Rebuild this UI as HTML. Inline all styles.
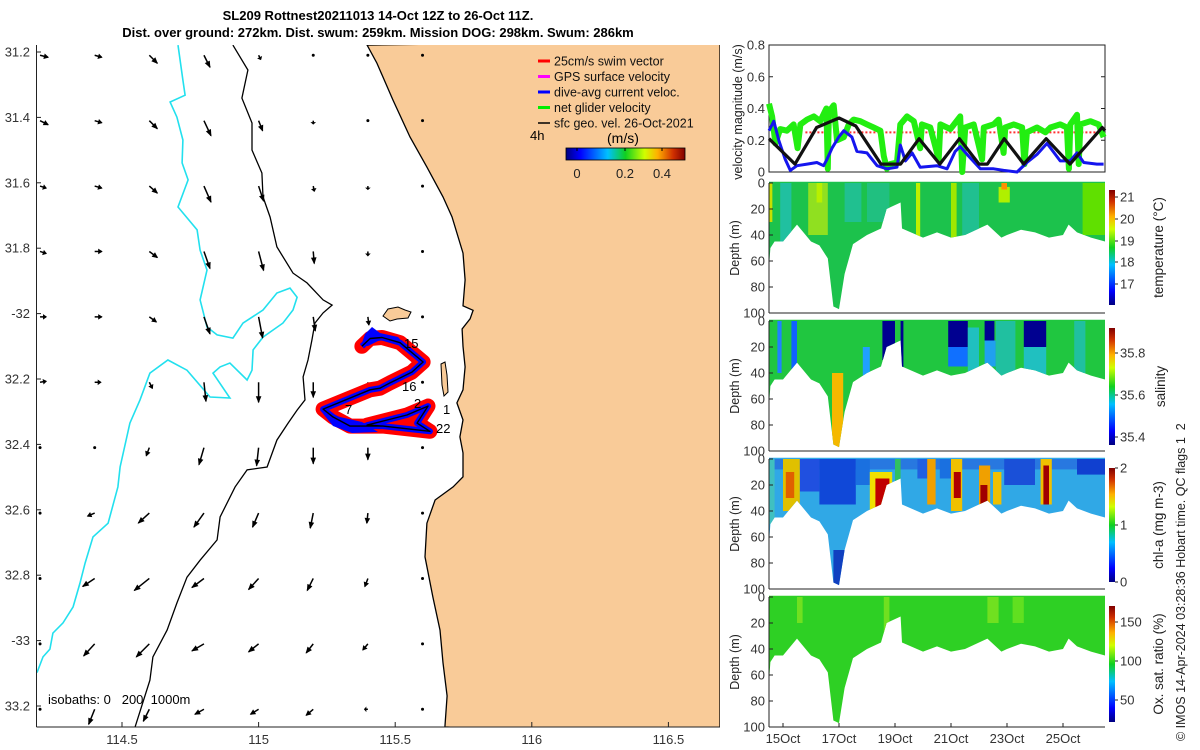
<!DOCTYPE html>
<html><head><meta charset="utf-8"><style>
body{margin:0;background:#fff;}
svg{display:block;font-family:"Liberation Sans",sans-serif;}
</style></head><body>
<svg id="s" width="1200" height="750" viewBox="0 0 1200 750">
<defs>
<linearGradient id="jetH" x1="0" x2="1" y1="0" y2="0">
<stop offset="0" stop-color="#000080"/><stop offset="0.12" stop-color="#0000ff"/><stop offset="0.35" stop-color="#00c0ff"/><stop offset="0.5" stop-color="#10d020"/><stop offset="0.66" stop-color="#d0ff00"/><stop offset="0.77" stop-color="#ffb000"/><stop offset="0.9" stop-color="#d03000"/><stop offset="1" stop-color="#800000"/></linearGradient>
<linearGradient id="jetV" x1="0" x2="0" y1="1" y2="0">
<stop offset="0" stop-color="#000080"/><stop offset="0.12" stop-color="#0000ff"/><stop offset="0.35" stop-color="#00c0ff"/><stop offset="0.5" stop-color="#10d020"/><stop offset="0.66" stop-color="#d0ff00"/><stop offset="0.77" stop-color="#ffb000"/><stop offset="0.9" stop-color="#d03000"/><stop offset="1" stop-color="#800000"/></linearGradient>
<clipPath id="mapClip"><rect x="36" y="45" width="684" height="682"/></clipPath>
</defs>
<g id="map" clip-path="url(#mapClip)"></g>
<g id="mapAxes"></g>
<g id="right"></g>
<text x="378" y="20" text-anchor="middle" font-size="13" font-weight="bold">SL209 Rottnest20211013 14-Oct 12Z to 26-Oct 11Z.</text>
<text x="378" y="37" text-anchor="middle" font-size="13" font-weight="bold">Dist. over ground: 272km. Dist. swum: 259km. Mission DOG: 298km. Swum: 286km</text>
</svg>
<script>
// ---------- data ----------
const coastLon = [115.397,115.433,115.492,115.554,115.616,115.675,115.708,115.748,115.756,115.748,115.785,115.774,115.745,115.748,115.756,115.748,115.726,115.748,115.737,115.748,115.748,115.712,115.646,115.616,115.609,115.638,115.664,115.675,115.690,115.682];
const coastLat = [31.179,31.234,31.347,31.460,31.552,31.643,31.704,31.815,31.897,31.976,31.990,32.016,32.047,32.100,32.163,32.233,32.273,32.325,32.377,32.426,32.499,32.530,32.570,32.641,32.744,32.867,32.968,33.068,33.169,33.264];
const iso200Lon = [114.906,114.961,114.939,114.976,114.976,115.012,115.016,115.042,115.067,115.126,115.177,115.236,115.269,115.236,115.206,115.195,115.181,115.163,115.170,115.141,115.108,115.067,115.031,114.958,114.914,114.859,114.848,114.786,114.738,114.701,114.665,114.613,114.602,114.548];
const iso200Lat = [31.179,31.255,31.341,31.417,31.500,31.570,31.643,31.705,31.796,31.876,31.906,31.958,31.974,31.998,32.029,32.081,32.142,32.194,32.264,32.295,32.335,32.387,32.469,32.478,32.530,32.622,32.692,32.754,32.806,32.885,32.968,33.050,33.121,33.264];
const iso1000Lon = [114.705,114.723,114.731,114.676,114.701,114.723,114.720,114.742,114.705,114.775,114.786,114.811,114.786,114.811,114.848,114.906,114.943,115.016,115.067,115.115,115.141,115.126,115.089,115.016,114.980,114.976,114.958,114.895,114.859,114.833,114.895,114.822,114.738,114.668,114.602,114.566,114.529,114.493,114.485,114.449,114.394,114.365,114.346,114.321,114.284,114.247,114.236,114.211,114.189];
const iso1000Lat = [31.179,31.286,31.332,31.353,31.399,31.469,31.539,31.591,31.674,31.744,31.806,31.867,31.958,32.041,32.065,32.075,32.029,31.989,31.937,31.922,31.950,31.989,32.029,32.072,32.111,32.173,32.203,32.151,32.163,32.182,32.258,32.255,32.173,32.142,32.182,32.264,32.335,32.469,32.530,32.641,32.683,32.763,32.825,32.897,32.946,32.977,33.026,33.050,33.098];
const arrowLon = [114.2,114.4,114.6,114.8,115.0,115.2,115.4,115.6];
const arrowLat = [31.21,31.41,31.61,31.81,32.01,32.21,32.41,32.61,32.81,33.01,33.21];
const arrowU = [[8,7,8,6,2,0,0,0],[8,7,8,7,4,0,0,0],[6,7,8,7,5,1,0,0],[6,7,8,6,5,1,0,0],[6,7,7,6,4,2,1,0],[6,6,3,2,0,0,0,0],[0,0,-3,-5,-2,0,0,0],[0,-7,-11,-10,-6,-3,-1,0],[0,-12,-15,-12,-10,-6,-3,0],[0,-11,-13,-12,-10,-7,-5,0],[0,-6,-6,-9,-8,-7,-3,0]];
const arrowV = [[-2,-2,-8,-12,-4,-1,0,0],[-4,-2,-8,-15,-10,-3,-1,0],[-2,-2,-7,-16,-15,-5,-3,-1],[-2,0,-6,-17,-19,-12,-4,-1],[0,0,-5,-17,-21,-14,-8,-1],[1,0,-6,-19,-20,-15,-8,-1],[-1,-1,-8,-17,-18,-16,-12,-1],[0,-3,-10,-14,-14,-15,-10,-1],[0,-8,-12,-9,-11,-12,-8,-1],[0,-12,-13,-7,-8,-9,-6,-1],[0,-15,-12,-5,-5,-6,0,-1]];
const trackLon = [115.378,115.408,115.452,115.518,115.602,115.561,115.481,115.444,115.408,115.236,115.272,115.335,115.455,115.627,115.580,115.620,115.543,115.397,115.455,115.627];
const trackLat = [32.100,32.076,32.073,32.089,32.148,32.179,32.212,32.228,32.233,32.292,32.316,32.344,32.344,32.360,32.335,32.283,32.310,32.341,32.344,32.360];
// velocity panel
const blackDays = [14.5,15.43,16.2,17.0,17.6,18.5,19.2,19.86,20.6,21.3,22.0,22.3,22.9,23.6,24.4,25.25,26.4,26.5];
const blackVals = [0.21,0.05,0.28,0.34,0.29,0.05,0.05,0.21,0.05,0.21,0.05,0.05,0.21,0.05,0.21,0.05,0.28,0.26];
const blueDays = [14.5,14.67,14.85,15.08,15.26,15.5,15.86,16.21,16.45,16.57,16.75,16.99,17.17,17.46,17.64,18.0,18.36,18.71,19.07,19.19,19.37,19.61,19.9,20.5,20.86,21.15,21.33,21.63,22.05,22.52,22.88,23.36,23.71,24.07,24.43,24.9,25.26,25.5,25.74,26.21,26.45];
const blueVals = [0.26,0.32,0.2,0.08,0.01,0.04,0.05,0.06,0.04,0.08,0.15,0.22,0.26,0.22,0.13,0.12,0.04,0.02,0.03,0.17,0.07,0.12,0.03,0.04,0.02,0.13,0.16,0.1,0.02,0.02,0.01,0.0,0.06,0.11,0.18,0.07,0.07,0.12,0.06,0.05,0.05];
const greenDays = [14.5,14.61,14.73,14.9,15.14,15.38,15.52,15.62,15.86,16.1,16.33,16.55,16.6,16.64,16.81,16.93,17.17,17.35,17.52,17.76,18.0,18.24,18.48,18.6,18.71,18.83,19.07,19.19,19.43,19.67,19.9,19.96,20.26,20.56,20.62,20.98,21.33,21.4,21.51,21.81,22.11,22.17,22.52,22.7,22.88,22.94,23.24,23.54,23.62,23.71,24.07,24.37,24.55,24.9,25.14,25.21,25.26,25.5,25.56,25.62,25.98,26.27,26.45];
const greenVals = [0.43,0.35,0.18,0.27,0.26,0.3,0.15,0.3,0.33,0.35,0.32,0.4,0.02,0.38,0.42,0.2,0.22,0.3,0.33,0.32,0.3,0.28,0.26,0.1,0.02,0.05,0.06,0.3,0.35,0.32,0.15,0.3,0.28,0.08,0.3,0.27,0.35,0.0,0.28,0.3,0.08,0.28,0.3,0.33,0.12,0.28,0.3,0.28,0.05,0.25,0.28,0.25,0.28,0.3,0.28,0.02,0.3,0.36,0.05,0.3,0.32,0.3,0.22];
const velTicks = [0,0.2,0.4,0.6,0.8];
// sections
const secDays = [14.5,14.55,14.7,15.0,15.5,16.0,16.3,16.6,16.8,17.0,17.2,17.5,18.0,18.5,18.7,18.9,19.2,19.25,20.0,20.5,21.0,21.5,22.0,22.3,22.8,23.0,23.5,24.0,24.5,25.0,25.2,25.5,26.0,26.5];
const secDepth = [65,50,45,45,32,45,48,58,95,97,70,47,40,35,20,18,15,35,42,38,42,40,35,32,42,40,36,38,42,40,32,38,42,45];
const depthTicks = [0,20,40,60,80,100];
const dateTicks = [15,17,19,21,23,25];
const dateLabels = ["15Oct","17Oct","19Oct","21Oct","23Oct","25Oct"];
const tempBands = [[14.5,14.62,'#c8e000',0,30],[14.9,15.3,'#20c0a0',0,45],[15.9,16.6,'#90e020',0,40],[16.2,16.4,'#b8f000',0,15],[17.2,17.8,'#20c090',0,30],[18.0,18.8,'#20c080',0,30],[19.75,19.9,'#c0f000',0,50],[21.0,21.2,'#a0e800',0,50],[21.4,22.0,'#20c090',0,40],[22.7,23.1,'#b0f000',3,15],[22.8,23.0,'#ff9000',0,5],[25.7,26.5,'#60e000',0,40]];
const salBands = [[14.8,14.95,'#2080ff',0,40],[15.3,15.5,'#1060ff',0,45],[17.85,18.1,'#20a0ff',20,45],[18.55,19.0,'#000090',0,30],[19.2,19.3,'#000090',0,45],[20.9,21.6,'#000090',0,20],[20.9,21.6,'#1070ff',20,35],[21.6,22.0,'#20c0c0',5,45],[22.2,22.55,'#000090',0,15],[22.2,22.6,'#20a0f0',15,35],[22.6,23.3,'#20c0a0',0,45],[23.6,24.4,'#000090',0,20],[23.6,24.4,'#20c0c0',20,45],[25.4,25.8,'#20c0a0',0,40],[16.75,17.15,'#f5b800',40,100]];
const chlBands = [[14.5,26.5,'#2878e0',0,8],[14.5,14.7,'#40c0c0',0,50],[15.6,16.3,'#2050e0',0,25],[16.3,17.6,'#1048d8',0,35],[16.8,17.2,'#1040c0',70,100],[17.6,18.1,'#1a70e0',0,20],[15.0,15.6,'#e0c000',0,40],[15.1,15.4,'#e06000',10,30],[18.1,18.9,'#f0e000',10,45],[18.3,18.8,'#c00000',15,40],[19.0,19.2,'#30c060',0,20],[19.8,20.2,'#2060e0',0,15],[20.15,20.45,'#f0a000',0,35],[20.6,21.0,'#1a70e0',0,15],[21.0,21.4,'#f0c000',0,40],[21.1,21.35,'#b00000',10,30],[22.0,22.4,'#f0a000',5,40],[22.05,22.3,'#a00000',20,40],[22.5,22.8,'#f0c000',10,35],[22.9,24.0,'#1a50d8',0,20],[24.2,24.6,'#f0c000',0,35],[24.3,24.5,'#a00000',5,35],[25.5,26.5,'#1040d0',0,12]];
const oxBands = [[15.5,15.7,'#70e020',0,20],[18.6,18.8,'#70e020',0,30],[22.3,22.7,'#70e020',0,20],[23.2,23.6,'#60e020',0,20]];

// ---------- helpers ----------
const NS="http://www.w3.org/2000/svg";
function mk(parent,tag,attrs,text){const e=document.createElementNS(NS,tag);for(const k in attrs)e.setAttribute(k,attrs[k]);if(text!==undefined)e.textContent=text;parent.appendChild(e);return e;}
const lonX = lon => 122 + (lon-114.5)*273.2;
const latY = lat => 52 + (lat-31.2)*327;
function pts(lons,lats){return lons.map((l,i)=>lonX(l).toFixed(1)+','+latY(lats[i]).toFixed(1)).join(' ');}

// ---------- map ----------
const map=document.getElementById('map');
let e;
e=mk(map,'rect',{x:36,y:45,width:684,height:682,fill:'#fff'});


e=mk(map,'polygon',{points:pts(coastLon,coastLat)+' 720,740 720,40',fill:'#f9cb98',stroke:'#000','stroke-width':1.3});


e=mk(map,'path',{d:'M383,316 L388,309 L398,307 L405,310 L411,312 L408,318 L397,319 L390,321 Z',fill:'#f9cb98',stroke:'#000','stroke-width':1});


e=mk(map,'path',{d:'M441,364 L445,362 L447,375 L448,392 L444,396 L442,385 Z',fill:'#f9cb98',stroke:'#000','stroke-width':1});


e=mk(map,'polyline',{points:pts(iso1000Lon,iso1000Lat),fill:'none',stroke:'#22e0ee','stroke-width':1.6});


e=mk(map,'polyline',{points:pts(iso200Lon,iso200Lat),fill:'none',stroke:'#000','stroke-width':1.3});


for(let j=0;j<arrowLat.length;j++){for(let i=0;i<arrowLon.length;i++){
  const x0=lonX(arrowLon[i]), y0=latY(arrowLat[j]);
  const dx=arrowU[j][i], dy=-arrowV[j][i];
  const L=Math.hypot(dx,dy);
  const g=mk(map,'g',{});
  
  
  if(L<1.5){mk(g,'circle',{cx:x0,cy:y0,r:1.5,fill:'#000'});continue;}
  const x1=x0+dx,y1=y0+dy,ux=dx/L,uy=dy/L,h=Math.min(6,L*0.5);
  mk(g,'line',{x1:x0,y1:y0,x2:x1,y2:y1,stroke:'#000','stroke-width':1.5});
  mk(g,'polygon',{points:`${x1+ux},${y1+uy} ${x1-ux*h-uy*2.8},${y1-uy*h+ux*2.8} ${x1-ux*h+uy*2.8},${y1-uy*h-ux*2.8}`,fill:'#000'});
}}
const tp=pts(trackLon,trackLat);
e=mk(map,'polyline',{points:tp,fill:'none',stroke:'#ff0000','stroke-width':15,'stroke-linejoin':'round','stroke-linecap':'round'});


e=mk(map,'path',{d:'M361,346 L365,334 L372,327 L380,333 L398,337 L405,345 L380,340 L368,346 Z',fill:'#0000ff'});


e=mk(map,'polyline',{points:tp,fill:'none',stroke:'#0000ff','stroke-width':6,'stroke-linejoin':'round'});


e=mk(map,'path',{d:'M320,410 L333,426 L352,433 L378,432 L362,422 L340,417 Z',fill:'#0000ff'});


e=mk(map,'polyline',{points:tp,fill:'none',stroke:'#000','stroke-width':1.4,'stroke-linejoin':'round'});


[['15',404,348],['16',402,391],['2',414,408],['1',443,414],['22',436,433],['7',345,414]].forEach(d=>{
  e=mk(map,'text',{x:d[1],y:d[2],'font-size':13},d[0]);
  
  
});
e=mk(map,'text',{x:48,y:704,'font-size':13},'isobaths: 0\u00a0\u00a0\u00a0200\u00a0\u00a01000m');


const leg=mk(map,'g',{});


[['#ff0000','25cm/s swim vector'],['#ff00ff','GPS surface velocity'],['#0000ff','dive-avg current veloc.'],['#00ee00','net glider velocity'],['#000000','sfc geo. vel. 26-Oct-2021']].forEach((d,k)=>{
  const y=61+k*15.5;
  e=mk(leg,'line',{x1:538,y1:y,x2:550,y2:y,stroke:d[0],'stroke-width':k==4?1.5:3});
  
  
  e=mk(leg,'text',{x:554,y:y+4.5,'font-size':12.5,fill:'#111'},d[1]);
  
  
});
e=mk(leg,'text',{x:530,y:140,'font-size':13},'4h');


e=mk(leg,'text',{x:607,y:143,'font-size':14},'(m/s)');


e=mk(leg,'rect',{x:566,y:148,width:119,height:12,fill:'url(#jetH)',stroke:'#000','stroke-width':0.8});


[['0',577],['0.2',625],['0.4',662]].forEach(d=>{
  mk(leg,'line',{x1:d[1],y1:148,x2:d[1],y2:151,stroke:'#000'});
  e=mk(leg,'text',{x:d[1],y:178,'font-size':13,'text-anchor':'middle',fill:'#222'},d[0]);
  
  
});
const ax=document.getElementById('mapAxes');
mk(ax,'line',{x1:36.5,y1:45,x2:36.5,y2:727,stroke:'#222','stroke-width':1});
mk(ax,'line',{x1:36.5,y1:727,x2:720,y2:727,stroke:'#222','stroke-width':1});
const latTicks=[31.2,31.4,31.6,31.8,32,32.2,32.4,32.6,32.8,33,33.2];
const latLabels=['31.2','31.4','31.6','31.8','-32','32.2','32.4','32.6','32.8','-33','33.2'];
latTicks.forEach((t,k)=>{const y=latY(t);
  mk(ax,'line',{x1:36.5,y1:y,x2:41,y2:y,stroke:'#222'});
  e=mk(ax,'text',{x:30,y:y+4.5,'font-size':13,'text-anchor':'end',fill:'#333'},latLabels[k]);
  
  
});
[114.5,115,115.5,116,116.5].forEach(t=>{const x=lonX(t);
  mk(ax,'line',{x1:x,y1:727,x2:x,y2:722,stroke:'#222'});
  e=mk(ax,'text',{x:x,y:744,'font-size':13,'text-anchor':'middle',fill:'#333'},String(t));
  
  
});

// ---------- right panels ----------
const R=document.getElementById('right');
const X0=769,X1=1105;
const dX = d => X0 + (d-14.5)*28;
const vY = v => 172 - v*158.75;
e=mk(R,'rect',{x:X0,y:45,width:X1-X0,height:127,fill:'#fff',stroke:'#222','stroke-width':1});


velTicks.forEach(v=>{
  mk(R,'line',{x1:X0,y1:vY(v),x2:X0+4,y2:vY(v),stroke:'#222'});
  mk(R,'line',{x1:X1,y1:vY(v),x2:X1-4,y2:vY(v),stroke:'#222'});
  e=mk(R,'text',{x:765,y:vY(v)+4.5,'font-size':13,'text-anchor':'end',fill:'#333'},String(v));
  
  
});
e=mk(R,'line',{x1:dX(15.8),y1:vY(0.25),x2:dX(26.3),y2:vY(0.25),stroke:'#ff3030','stroke-width':2,'stroke-dasharray':'2 2'});


function series(days,vals,col,w,name){
  const p=days.map((d,i)=>dX(d).toFixed(1)+','+vY(vals[i]).toFixed(1)).join(' ');
  const el=mk(R,'polyline',{points:p,fill:'none',stroke:col,'stroke-width':w,'stroke-linejoin':'round'});
  
  
}
series(greenDays,greenVals,'#22ee11',6,'net-glider-velocity-line');
series(blueDays,blueVals,'#1515ee',3,'dive-avg-current-line');
series(blackDays,blackVals,'#111',3.2,'geostrophic-velocity-line');
e=mk(R,'text',{x:0,y:0,'font-size':12.5,'text-anchor':'middle',fill:'#222',transform:'translate(742,112) rotate(-90)'},'velocity magnitude (m/s)');



const panels=[
 {top:183,bands:tempBands,base:'#1cc24c',name:'temperature',cb:[190,305],ticks:[['21',197],['20',219],['19',241],['18',262],['17',284]],title:'temperature (°C)'},
 {top:321,bands:salBands,base:'#20c640',name:'salinity',cb:[328,445],ticks:[['35.8',353],['35.6',395],['35.4',437]],title:'salinity'},
 {top:459,bands:chlBands,base:'#30a8e6',name:'chl-a',cb:[468,582],ticks:[['2',468],['1',525],['0',582]],title:'chl-a (mg m-3)'},
 {top:597,bands:oxBands,base:'#2ed024',name:'oxygen',cb:[606,722],ticks:[['150',622],['100',661],['50',700]],title:'Ox. sat. ratio (%)'}];
panels.forEach((P,pi)=>{
  const g=mk(R,'g',{});
  
  
  const dY = z => P.top + z*1.3;
  const cid='sec'+pi;
  const cp=mk(g,'clipPath',{id:cid});
  let poly=secDays.map((d,i)=>dX(d).toFixed(1)+','+dY(secDepth[i]).toFixed(1)).join(' ');
  poly = dX(26.5)+','+dY(-1)+' '+dX(14.5)+','+dY(-1)+' '+poly;
  mk(cp,'polygon',{points:poly});
  const sg=mk(g,'g',{'clip-path':`url(#${cid})`});
  e=mk(sg,'rect',{x:X0,y:P.top-2,width:X1-X0,height:134,fill:P.base});
  
  
  P.bands.forEach(b=>{
    e=mk(sg,'rect',{x:dX(b[0]),y:dY(b[3]),width:dX(b[1])-dX(b[0]),height:dY(b[4])-dY(b[3]),fill:b[2]});
    
    
  });
  mk(g,'line',{x1:X0,y1:P.top,x2:X0,y2:P.top+130,stroke:'#222'});
  mk(g,'line',{x1:X0,y1:P.top+130,x2:X1,y2:P.top+130,stroke:'#222'});
  depthTicks.forEach(z=>{
    mk(g,'line',{x1:X0,y1:dY(z),x2:X0+4,y2:dY(z),stroke:'#222'});
    e=mk(g,'text',{x:765,y:dY(z)+4.5,'font-size':13,'text-anchor':'end',fill:'#333'},String(z));
    
    
  });
  e=mk(g,'text',{x:0,y:0,'font-size':12.5,'text-anchor':'middle',fill:'#222',transform:`translate(739,${P.top+65}) rotate(-90)`},'Depth (m)');
  
  
  e=mk(g,'rect',{x:1109,y:P.cb[0],width:6,height:P.cb[1]-P.cb[0],fill:'url(#jetV)'});
  
  
  P.ticks.forEach(t=>{
    mk(g,'line',{x1:1115,y1:t[1],x2:1118,y2:t[1],stroke:'#222'});
    e=mk(g,'text',{x:1120,y:t[1]+4.5,'font-size':13,fill:'#333'},t[0]);
    
    
  });
  e=mk(g,'text',{x:0,y:0,'font-size':13.5,'text-anchor':'middle',fill:'#222',transform:`translate(${P.name==='salinity'?1165:1163},${(P.cb[0]+P.cb[1])/2}) rotate(-90)`},P.title);
  
  
});
dateTicks.forEach((d,k)=>{
  mk(R,'line',{x1:dX(d),y1:727,x2:dX(d),y2:723,stroke:'#222'});
  e=mk(R,'text',{x:dX(d),y:743,'font-size':13,'text-anchor':'middle',fill:'#333'},dateLabels[k]);
  
  
});
e=mk(R,'text',{x:0,y:0,'font-size':12.5,'text-anchor':'start',fill:'#222',transform:'translate(1185,741) rotate(-90)'},'© IMOS 14-Apr-2024 03:28:36 Hobart time. QC flags 1\u00a0\u00a02');


</script>
</body></html>
